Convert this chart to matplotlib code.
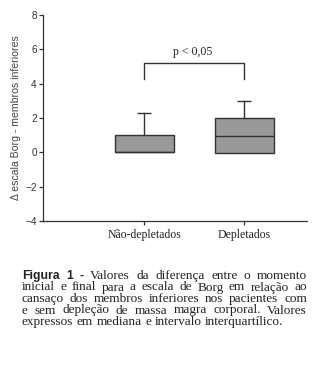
import numpy as np
import matplotlib.pyplot as plt

# data
groups = ["Não-depletados", "Depletados"]
q1 = [0.0, -0.03]
median = [0.0, 0.97]
q3 = [1.02, 2.0]
whisker_hi = [2.3, 3.0]
whisker_lo = [0.0, -0.03]

p_text = "p < 0,05"
ylabel = "Δ escala Borg - membros inferiores"
caption_lines = [
    "Figura 1 - Valores da diferença entre o momento",
    "inicial e final para a escala de Borg em relação ao",
    "cansaço dos membros inferiores nos pacientes com",
    "e sem depleção de massa magra corporal. Valores",
    "expressos em mediana e intervalo interquartílico.",
]

W, H = 327, 367
fig = plt.figure(figsize=(W / 100, H / 100), dpi=100)
ax = fig.add_axes([43 / W, 1 - 221 / H, (307 - 43) / W, (221 - 15) / H])

edge = "#333333"
pos = [1, 2]
stats = []
for i in range(len(groups)):
    stats.append(dict(med=median[i], q1=q1[i], q3=q3[i],
                      whislo=whisker_lo[i], whishi=whisker_hi[i], label=groups[i]))

ax.bxp(stats, positions=pos, widths=0.59, patch_artist=True, showfliers=False,
       showcaps=False,
       boxprops=dict(facecolor="#999999", edgecolor=edge, linewidth=1.0),
       medianprops=dict(color=edge, linewidth=1.0),
       whiskerprops=dict(color=edge, linewidth=1.0))
# caps on top only
ax.hlines(whisker_hi, np.array(pos) - 0.07, np.array(pos) + 0.07, color=edge, lw=1.0)

# significance bracket
ax.plot([pos[0], pos[0], pos[1], pos[1]], [4.25, 5.19, 5.19, 4.25], color=edge, lw=1.0)
ax.text(1.49, 5.5, p_text, ha="center", va="bottom", fontsize=8.5,
        family="Liberation Serif", color="#222222")

ax.set_xlim(-0.01, 2.63)
ax.set_ylim(-4, 8)
ax.set_yticks(np.arange(-4, 9, 2))
ax.set_yticklabels([str(v).replace("-", "\u2212") for v in range(-4, 9, 2)])
ax.set_xticks(pos)
ax.set_xticklabels(groups, family="Liberation Serif", fontsize=8.5, color="#222222")
ax.spines["top"].set_visible(False)
ax.spines["right"].set_visible(False)
for s in ["left", "bottom"]:
    ax.spines[s].set_color(edge)
    ax.spines[s].set_linewidth(0.9)
ax.tick_params(axis="y", length=3, width=0.9, color=edge, labelsize=7.2,
               labelcolor="#333333", pad=1.5)
ax.tick_params(axis="x", length=3, width=0.9, color=edge, pad=3)
for t in ax.get_yticklabels():
    t.set_family("Liberation Sans")
ax.set_ylabel(ylabel, family="Liberation Sans", fontsize=7.6, color="#444444", labelpad=3)

# justified caption
fig.canvas.draw()
renderer = fig.canvas.get_renderer()
x0, x1 = 22, 307
base = [279, 290.5, 302, 313.5, 325]
for li, line in enumerate(caption_lines):
    words = line.split(" ")
    texts = []
    for wi, w in enumerate(words):
        if li == 0 and wi < 3:
            t = fig.text(0, 0, w, fontsize=8.8, family="Liberation Sans", weight="bold",
                         color="#222222", va="baseline")
        else:
            t = fig.text(0, 0, w, fontsize=9.5, family="Liberation Serif",
                         color="#222222", va="baseline")
        texts.append(t)
    widths = [t.get_window_extent(renderer).width for t in texts]
    if li < len(caption_lines) - 1:
        gap = (x1 - x0 - sum(widths)) / (len(words) - 1)
    else:
        gap = 3.5
    x = x0
    for t, wd in zip(texts, widths):
        t.set_position((x / W, 1 - base[li] / H))
        x += wd + gap

fig.savefig("out.png", dpi=100)
